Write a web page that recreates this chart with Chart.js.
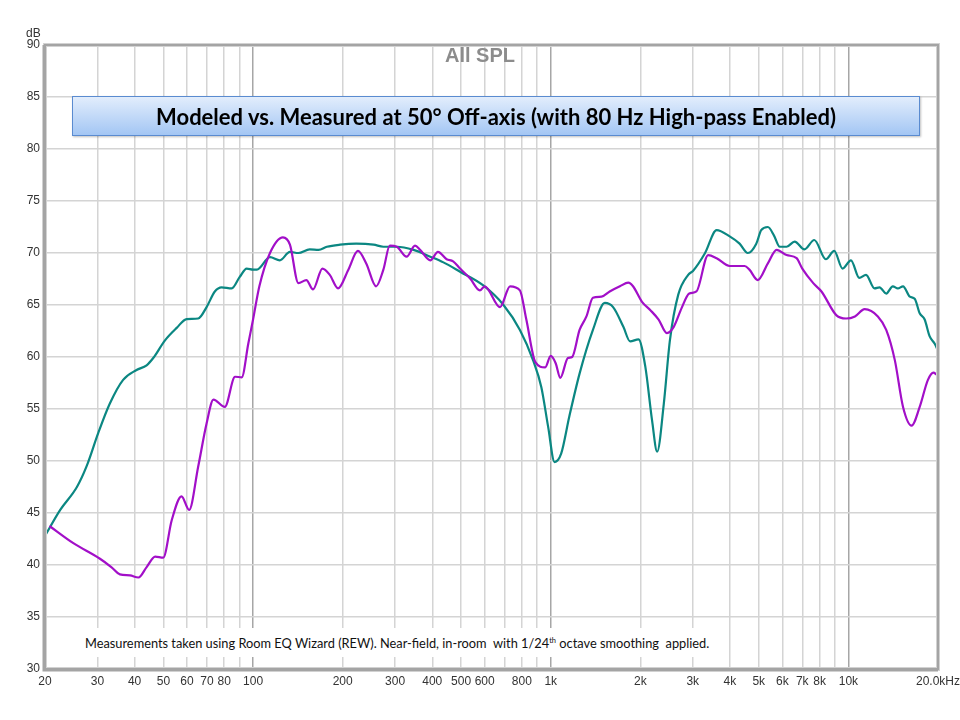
<!DOCTYPE html>
<html>
<head>
<meta charset="utf-8">
<script src="https://cdn.jsdelivr.net/npm/chart.js@4.4.1/dist/chart.umd.min.js"></script>
<style>
  body { margin: 0; background: #fff; }
  #wrap { position: relative; width: 960px; height: 720px; }
  #unit { position: absolute; left: 26px; top: 26px; font: 12px "Liberation Sans", Arial, sans-serif; line-height: 14px; color: #333; }
  #spl { position: absolute; left: 0; width: 960px; top: 44px; text-align: center;
         font: bold 20px "Liberation Sans", Arial, sans-serif; line-height: 23px; color: #8c8c8c; }
  #titleBox { position: absolute; left: 72px; top: 96px; width: 846px; height: 38px;
              border: 1px solid #5a8bd0; box-shadow: 1px 1px 2px rgba(0,0,0,0.25);
              background: linear-gradient(#e2edfc, #a3c6f4);
              text-align: center;
              font: bold 22px Lato, "Open Sans", sans-serif; line-height: 39px; color: #000; }
  #note { position: absolute; left: 80px; top: 628px; width: 636px; height: 29px; background: #fff;
          padding-left: 5px; box-sizing: border-box;
          font: 12.8px Lato, "Open Sans", sans-serif; line-height: 30px; color: #111; white-space: nowrap; }
  #note sup { font-size: 7.5px; vertical-align: 5px; line-height: 0; }
</style>
</head>
<body>
<div id="wrap">
  <canvas id="myChart" width="960" height="720"></canvas>
  <div id="unit">dB</div>
  <div id="spl">All SPL</div>
  <div id="titleBox">Modeled vs. Measured at 50° Off-axis (with 80 Hz High-pass Enabled)</div>
  <div id="note">Measurements taken using Room EQ Wizard (REW). Near-field, in-room&nbsp; with 1/24<sup>th</sup> octave smoothing&nbsp; applied.</div>
</div>
<script>
// grid frequencies and their labels (empty = gridline only)
const gridFreqs = [20, 30, 40, 50, 60, 70, 80, 90, 100, 200, 300, 400, 500, 600, 700, 800, 900,
    1000, 2000, 3000, 4000, 5000, 6000, 7000, 8000, 9000, 10000, 20000];
const gridLabels = ['20', '30', '40', '50', '60', '70', '80', '', '100', '200', '300', '400', '500', '600', '', '800', '',
    '1k', '2k', '3k', '4k', '5k', '6k', '7k', '8k', '', '10k', '20.0kHz'];
const majorFreqs = [100, 1000, 10000];

// teal trace
const modeledFreq = [20, 22.5, 25.6, 27.6, 30.2, 33, 36.6, 40.6, 43.9, 46.2, 50.6, 55.4, 59.8, 65.4, 69.8, 74.4, 78.4,
    84.8, 90.2, 95.2, 100, 103, 114, 123, 133, 142, 155, 166, 177, 196, 222, 254, 274, 304, 346, 394, 436, 496,
    592, 694, 788, 872, 930, 980, 1030, 1084, 1155, 1250, 1386, 1520, 1620, 1754, 1848, 1972, 2078, 2190, 2278,
    2398, 2514, 2682, 2896, 3010, 3300, 3608, 3992, 4310, 4594, 4904, 5094, 5364, 5620, 5880, 6200, 6600, 7120,
    7680, 8400, 8960, 9560, 10200, 10880, 11460, 12240, 12720, 13400, 14100, 14660, 15260, 16080, 16700, 17360,
    18040, 18740, 19480, 20000];
const modeledDb = [42.8, 45.3, 47.5, 49.5, 52.7, 55.5, 57.8, 58.75, 59.2, 59.9, 61.6, 62.8, 63.65, 63.7, 64.8, 66.3, 66.7,
    66.6, 67.7, 68.5, 68.4, 68.4, 69.6, 69.3, 70.1, 70.0, 70.35, 70.3, 70.6, 70.8, 70.9, 70.8, 70.6, 70.6, 70.3, 69.65, 69.1, 68.2,
    66.9, 65.0, 62.6, 59.7, 57.1, 53.3, 49.9, 50.7, 54.3, 58.4, 62.6, 65.2, 64.8, 62.9, 61.5, 61.7, 59.1, 53.9, 50.9,
    55.5, 61.6, 66.0, 67.9, 68.3, 70.0, 72.2, 71.6, 70.9, 70.0, 70.9, 72.2, 72.5, 71.7, 70.6, 70.6, 71.1, 70.35,
    71.25, 69.4, 70.2, 68.5, 69.3, 67.6, 67.9, 66.6, 66.7, 66.1, 66.8, 66.6, 66.8, 65.8, 65.6, 64.2,
    63.6, 62.0, 61.3, 60.6];

// purple trace
const measuredFreq = [20.7, 24.9, 30.6, 33.4, 35.7, 38.6, 41.2, 43.9, 46.9, 49.9, 53.3, 57.5, 61, 65.4, 69.8, 73.6, 80.4,
    87, 91.6, 96.4, 100, 105, 114, 126, 133, 142, 151, 159, 171, 181, 193, 209, 225, 240, 259, 274, 288, 304, 328,
    350, 364, 394, 418, 447, 470, 496, 536, 578, 600, 676, 730, 788, 828, 888, 958, 1000, 1039, 1077, 1142, 1180,
    1250, 1318, 1386, 1482, 1578, 1708, 1822, 1890, 2026, 2162, 2304, 2456, 2590, 2752, 2920, 3086, 3380, 3608,
    3992, 4480, 4650, 4960, 5364, 5740, 6200, 6700, 7000, 7620, 8120, 9120, 9820, 10520, 11340, 12560, 13400,
    14320, 15260, 16300, 17360, 18500, 19300, 19800];
const measuredDb = [43.75, 42.1, 40.6, 39.8, 39.1, 39.0, 38.8, 39.8, 40.8, 40.7, 44.3, 46.6, 45.3, 49.45, 53.6, 55.9, 55.2,
    58.1, 58.05, 61.3, 63.6, 66.8, 70.0, 71.5, 70.8, 67.1, 67.4, 66.5, 68.5, 67.9, 66.6, 68.4, 70.2, 69.0, 66.8, 68.4, 70.7, 70.6, 69.65,
    70.7, 70.3, 69.3, 70.1, 69.4, 69.2, 68.5, 67.55, 66.4, 66.8, 64.8, 66.8, 66.4, 63.6, 59.5, 59.0, 60.1, 59.4, 58.0, 59.9, 60.0,
    62.6, 63.9, 65.7, 65.8, 66.3, 66.8, 67.15, 66.8, 65.3, 64.5, 63.6, 62.3, 62.9, 64.7, 66.1, 66.3, 69.8, 69.5,
    68.75, 68.75, 68.4, 67.4, 69.0, 70.3, 69.8, 69.5, 68.5, 67.1, 66.3, 64.0, 63.7, 63.9, 64.6, 63.9, 62.6,
    59.7, 55.2, 53.4, 55.2, 57.8, 58.5, 58.3];

function toPoints(freqs, dbs) {
    return freqs.map((f, i) => ({ x: f, y: dbs[i] }));
}

// plot frame like REW
const framePlugin = {
    id: 'frame',
    afterDraw(chart) {
        const { ctx, chartArea: a } = chart;
        ctx.save();
        ctx.strokeStyle = '#d2d2d2';
        ctx.lineWidth = 4;
        ctx.strokeRect(a.left, a.top, a.right - a.left, a.bottom - a.top);
        ctx.strokeStyle = '#a4a4a4';
        ctx.lineWidth = 2;
        ctx.strokeRect(a.left, a.top, a.right - a.left, a.bottom - a.top);
        ctx.beginPath();
        ctx.lineWidth = 3;
        ctx.moveTo(a.left - 1, a.top);
        ctx.lineTo(a.left - 1, a.bottom + 1);
        ctx.lineTo(a.right, a.bottom + 1);
        ctx.stroke();
        ctx.restore();
    }
};

const ctx = document.getElementById('myChart').getContext('2d');
const myChart = new Chart(ctx, {
    type: 'line',
    data: {
        datasets: [{
            label: 'Measured',
            data: toPoints(measuredFreq, measuredDb),
            borderColor: '#a20fc8',
            borderWidth: 2.2,
            pointRadius: 0,
            cubicInterpolationMode: 'monotone'
        }, {
            label: 'Modeled',
            data: toPoints(modeledFreq, modeledDb),
            borderColor: '#0b8782',
            borderWidth: 2.2,
            pointRadius: 0,
            cubicInterpolationMode: 'monotone'
        }]
    },
    options: {
        responsive: false,
        animation: false,
        events: [],
        layout: { padding: { top: 45, right: 22, bottom: 0, left: 0 } },
        plugins: { legend: { display: false }, tooltip: { enabled: false } },
        scales: {
            x: {
                type: 'logarithmic',
                min: 20,
                max: 20000,
                afterBuildTicks: scale => { scale.ticks = gridFreqs.map(v => ({ value: v })); },
                afterFit: scale => {
                    scale.height = 51;
                    // let the last label hang past the plot edge
                    scale.paddingLeft = 0;
                    scale.paddingRight = 0;
                },
                border: { display: false },
                grid: {
                    drawTicks: false,
                    lineWidth: 1.5,
                    color: c => majorFreqs.includes(c.tick && c.tick.value) ? '#a6a6a6' : '#d4d4d4'
                },
                ticks: {
                    autoSkip: false,
                    maxRotation: 0,
                    padding: 5,
                    color: '#333',
                    font: { family: '"Liberation Sans", Arial, sans-serif', size: 12 },
                    callback: (value, i) => gridLabels[gridFreqs.indexOf(value)]
                }
            },
            y: {
                min: 30,
                max: 90,
                afterFit: scale => { scale.width = 45; },
                border: { display: false },
                grid: { drawTicks: false, lineWidth: 1.5, color: '#d4d4d4' },
                ticks: {
                    stepSize: 5,
                    padding: 5,
                    color: '#333',
                    font: { family: '"Liberation Sans", Arial, sans-serif', size: 12 }
                }
            }
        }
    },
    plugins: [framePlugin]
});
</script>
</body>
</html>
